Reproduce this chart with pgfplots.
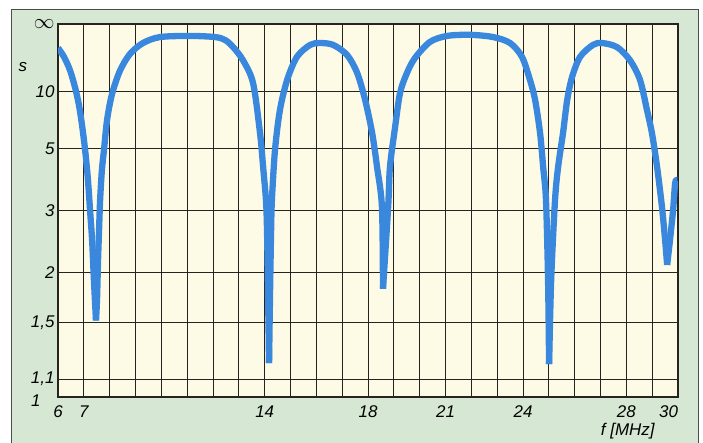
\documentclass[border=0pt]{standalone}
\usepackage{pgfplots}
\pgfplotsset{compat=1.18}
\usepackage{fontspec}
\setmainfont{Liberation Sans}
\definecolor{panel}{RGB}{214,232,212}
\definecolor{cream}{RGB}{253,251,230}
\definecolor{curve}{RGB}{58,136,222}
\definecolor{gridc}{RGB}{40,35,30}
\pgfplotstableread{
f r
6.00 0.936
6.23 0.912
6.46 0.877
6.66 0.830
6.81 0.783
6.93 0.729
7.05 0.662
7.16 0.582
7.24 0.501
7.32 0.421
7.39 0.314
7.47 0.205
}\segA
\pgfplotstableread{
f r
7.47 0.205
7.51 0.260
7.55 0.367
7.59 0.448
7.63 0.528
7.70 0.609
7.78 0.662
7.90 0.743
8.09 0.812
8.40 0.875
8.79 0.920
9.29 0.949
9.95 0.965
11.11 0.968
12.08 0.965
12.47 0.957
12.78 0.938
13.16 0.903
13.55 0.842
13.82 0.708
13.94 0.617
14.05 0.528
14.09 0.450
14.13 0.287
14.17 0.091
}\segB
\pgfplotstableread{
f r
14.17 0.091
14.21 0.287
14.25 0.450
14.28 0.528
14.40 0.662
14.59 0.769
14.87 0.850
15.25 0.912
15.76 0.944
16.14 0.949
16.65 0.944
17.19 0.917
17.58 0.869
17.89 0.796
18.16 0.708
18.35 0.617
18.54 0.509
18.58 0.290
}\segC
\pgfplotstableread{
f r
18.58 0.290
18.78 0.509
18.85 0.617
19.05 0.724
19.24 0.815
19.51 0.869
19.82 0.909
20.40 0.952
21.06 0.968
21.95 0.971
22.84 0.965
23.50 0.949
23.96 0.912
24.27 0.850
24.47 0.796
24.66 0.708
24.78 0.617
24.89 0.528
24.97 0.314
25.01 0.088
}\segD
\pgfplotstableread{
f r
25.01 0.088
25.09 0.314
25.24 0.528
25.36 0.617
25.55 0.708
25.71 0.796
25.90 0.858
26.21 0.912
26.71 0.944
27.06 0.949
27.64 0.938
28.14 0.903
28.53 0.850
28.80 0.769
28.99 0.708
29.19 0.617
29.38 0.509
29.50 0.421
29.58 0.354
}\segE
\pgfplotstableread{
f r
29.58 0.354
29.69 0.421
29.81 0.501
29.89 0.574
29.97 0.582
}\segF
\tikzset{swr/.style={curve, line width=6.3bp, line join=round, line cap=butt, smooth, tension=0.5, mark=none}}
\begin{document}
\begin{tikzpicture}
\path[use as bounding box] (-58bp,-46bp) rectangle (645bp,397bp);
\fill[panel] (-47bp,-60bp) rectangle (640bp,388bp);
\draw[gray!60!black, line width=0.8bp] (-47bp,-60bp) -- (-47bp,388bp) -- (640bp,388bp) -- (640bp,-60bp);
\begin{axis}[
  at={(0bp,0bp)}, anchor=south west,
  scale only axis, width=620bp, height=373bp,
  xmin=6, xmax=30, ymin=0, ymax=1,
  axis background/.style={fill=cream},
  axis line style={gridc, line width=1.6bp},
  xtick={6,7,14,18,21,24,28,30},
  xticklabels={6,7,14,18,21,24,28,\makebox[0pt][r]{30}},
  minor xtick={8,...,29},
  ytick={0.047619,0.2,0.333333,0.5,0.666667,0.818182,1},
  yticklabels={{1,1},{1,5},2,3,5,10,{\fontsize{21}{21}\selectfont$\infty$}},
  extra y ticks={0}, extra y tick labels={1},
  extra y tick style={yticklabel style={xshift=-14bp,yshift=-4bp}},
  grid=both,
  major grid style={gridc, line width=1bp},
  minor grid style={gridc, line width=1bp},
  major tick length=0pt, minor tick length=0pt,
  ticklabel style={font=\itshape\fontsize{17}{17}\selectfont},
  xticklabel style={yshift=-5bp},
  /pgf/number format/assume math mode=true,
  xlabel={f [MHz]}, ylabel={s},
  xlabel style={at={(axis description cs:0.919,-0.091)}, anchor=center, font=\itshape\fontsize{17}{17}\selectfont},
  ylabel style={at={(axis description cs:-0.0565,0.885)}, anchor=center, rotate=-90, font=\itshape\fontsize{17}{17}\selectfont},
]
\addplot[swr] table {\segA};
\addplot[swr] table {\segB};
\addplot[swr] table {\segC};
\addplot[swr] table {\segD};
\addplot[swr] table {\segE};
\addplot[swr] table {\segF};
\end{axis}
\end{tikzpicture}
\end{document}
